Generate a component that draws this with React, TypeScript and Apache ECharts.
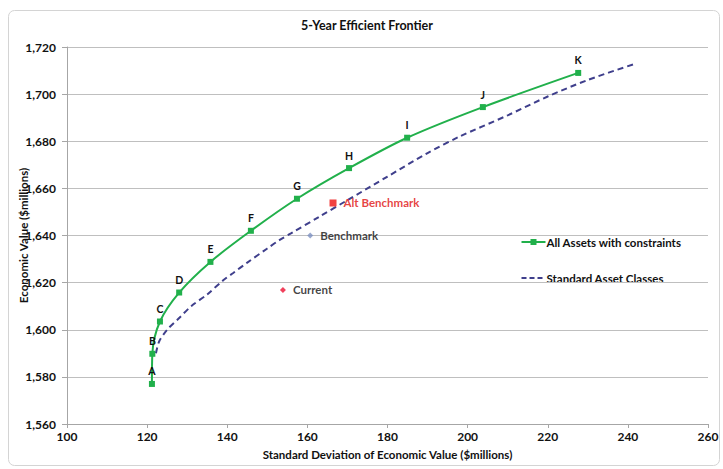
import React, { useEffect, useRef } from "react";
import * as echarts from "echarts";

const frontierLabels = ["A", "B", "C", "D", "E", "F", "G", "H", "I", "J", "K"];
const frontierX = [121.2, 121.3, 123.2, 128.0, 135.8, 145.9, 157.4, 170.4, 184.9, 203.8, 227.6];
const frontierY = [1577.0, 1589.8, 1603.5, 1615.8, 1628.8, 1642.0, 1655.6, 1668.6, 1681.5, 1694.5, 1709.0];

const standardX = [122.2, 123.0, 125.0, 128.0, 131.0, 135.0, 139.0, 141.4, 145.0, 150.0, 153.0, 156.0, 163.0, 170.0, 180.0, 190.0, 198.0, 210.0, 220.0, 230.0, 242.0];
const standardY = [1590, 1595, 1600, 1605, 1610, 1615, 1621, 1624, 1628.5, 1634.5, 1638, 1641, 1648, 1655, 1665, 1675, 1682, 1691, 1699, 1706, 1713];

const pointNames = ["Alt Benchmark", "Benchmark", "Current"];
const pointX = [166.4, 160.7, 153.9];
const pointY = [1653.8, 1640.0, 1616.9];

const seriesNames = ["All Assets with constraints", "Standard Asset Classes"];
const xTicks = { min: 100, max: 260, interval: 20 };
const yTicks = { min: 1560, max: 1720, interval: 20 };

const FONT = "Lato, 'Open Sans', sans-serif";
const GREEN = "#21b04b";
const NAVY = "#3f3f8c";

export default function App() {
  const ref = useRef<HTMLDivElement>(null);
  useEffect(() => {
    if (!ref.current) return;
    const chart = echarts.init(ref.current, undefined, { renderer: "svg" });
    const pointColors = ["#ee1111", "#7d91c2", "#ee1133"];
    const pointSymbols = ["rect", "diamond", "diamond"];
    const pointSizes = [7, 6, 6];
    const pointLabelColors = ["#e01010", "#111111", "#111111"];
    const legendText = { fontSize: 11.5, fontWeight: "bold", fill: "#111", fontFamily: FONT };
    chart.setOption({
      animation: false,
      textStyle: { fontFamily: FONT },
      title: {
        text: "5-Year Efficient Frontier",
        left: 362,
        textAlign: "center",
        top: 14,
        textStyle: { fontSize: 12.5, fontWeight: "bold", color: "#111", fontFamily: FONT },
      },
      graphic: [
        {
          type: "rect",
          shape: { x: 8.5, y: 10.5, width: 711, height: 455, r: 6 },
          style: { fill: "none", stroke: "#d4d4d4", lineWidth: 1 },
          silent: true,
        },
        {
          type: "group",
          left: 519,
          top: 236,
          children: [
            { type: "line", shape: { x1: 0, y1: 6, x2: 24, y2: 6 }, style: { stroke: GREEN, lineWidth: 2 } },
            { type: "rect", shape: { x: 9, y: 3, width: 6, height: 6 }, style: { fill: GREEN } },
            { type: "text", x: 25, y: 0, style: { ...legendText, text: seriesNames[0] } },
            { type: "line", shape: { x1: 0, y1: 42, x2: 24, y2: 42 }, style: { stroke: NAVY, lineWidth: 2, lineDash: [5, 3] } },
            { type: "text", x: 25, y: 36, style: { ...legendText, text: seriesNames[1] } },
          ],
        },
      ],
      grid: { left: 67, right: 15, top: 47, bottom: 45, containLabel: false, outerBoundsMode: "none" },
      xAxis: {
        type: "value",
        min: xTicks.min,
        max: xTicks.max,
        interval: xTicks.interval,
        name: "Standard Deviation of Economic Value ($millions)",
        nameLocation: "middle",
        nameGap: 24,
        nameMoveOverlap: false,
        nameTextStyle: { fontSize: 11.5, fontWeight: "bold", color: "#111", fontFamily: FONT },
        axisLine: { lineStyle: { color: "#a6a6a6" } },
        axisTick: { show: true, length: 4, lineStyle: { color: "#a6a6a6" } },
        axisLabel: { fontSize: 12, fontWeight: "bold", color: "#111", margin: 6, fontFamily: FONT },
        splitLine: { show: false },
      },
      yAxis: {
        type: "value",
        min: yTicks.min,
        max: yTicks.max,
        interval: yTicks.interval,
        name: "Economic Value ($millions)",
        nameLocation: "middle",
        nameGap: 38,
        nameMoveOverlap: false,
        nameTextStyle: { fontSize: 11.5, fontWeight: "bold", color: "#111", fontFamily: FONT },
        axisLine: { show: true, lineStyle: { color: "#a6a6a6" } },
        axisTick: { show: true, length: 5, lineStyle: { color: "#a6a6a6" } },
        axisLabel: {
          fontSize: 12,
          fontWeight: "bold",
          color: "#111",
          margin: 11,
          fontFamily: FONT,
          formatter: (v: number) => v.toLocaleString("en-US"),
        },
        splitLine: { show: true, lineStyle: { color: "#bfbfbf", width: 1 } },
      },
      series: [
        {
          name: seriesNames[0],
          type: "line",
          smooth: 0.3,
          data: frontierX.map((x, i) => ({ value: [x, frontierY[i]], name: frontierLabels[i] })),
          symbol: "rect",
          symbolSize: 6,
          itemStyle: { color: GREEN },
          lineStyle: { color: GREEN, width: 2 },
          label: {
            show: true,
            position: "top",
            distance: 4,
            formatter: (p: any) => p.name,
            fontSize: 10.5,
            fontWeight: "bold",
            color: "#111",
            fontFamily: FONT,
          },
          z: 3,
        },
        {
          name: seriesNames[1],
          type: "line",
          smooth: 0.3,
          data: standardX.map((x, i) => [x, standardY[i]]),
          symbol: "none",
          showSymbol: false,
          itemStyle: { color: NAVY },
          lineStyle: { color: NAVY, width: 2, type: [6, 4] },
          z: 2,
        },
        {
          name: "points",
          type: "scatter",
          data: pointX.map((x, i) => ({
            value: [x, pointY[i]],
            name: pointNames[i],
            symbol: pointSymbols[i],
            symbolSize: pointSizes[i],
            itemStyle: { color: pointColors[i] },
            label: { color: pointLabelColors[i] },
          })),
          label: {
            show: true,
            position: "right",
            distance: 7,
            formatter: (p: any) => p.name,
            fontSize: 11.5,
            fontWeight: "bold",
            fontFamily: FONT,
          },
          z: 4,
        },
      ],
    });
    return () => chart.dispose();
  }, []);
  return <div ref={ref} style={{ position: "absolute", left: 0, top: 0, width: 723, height: 469 }} />;
}
